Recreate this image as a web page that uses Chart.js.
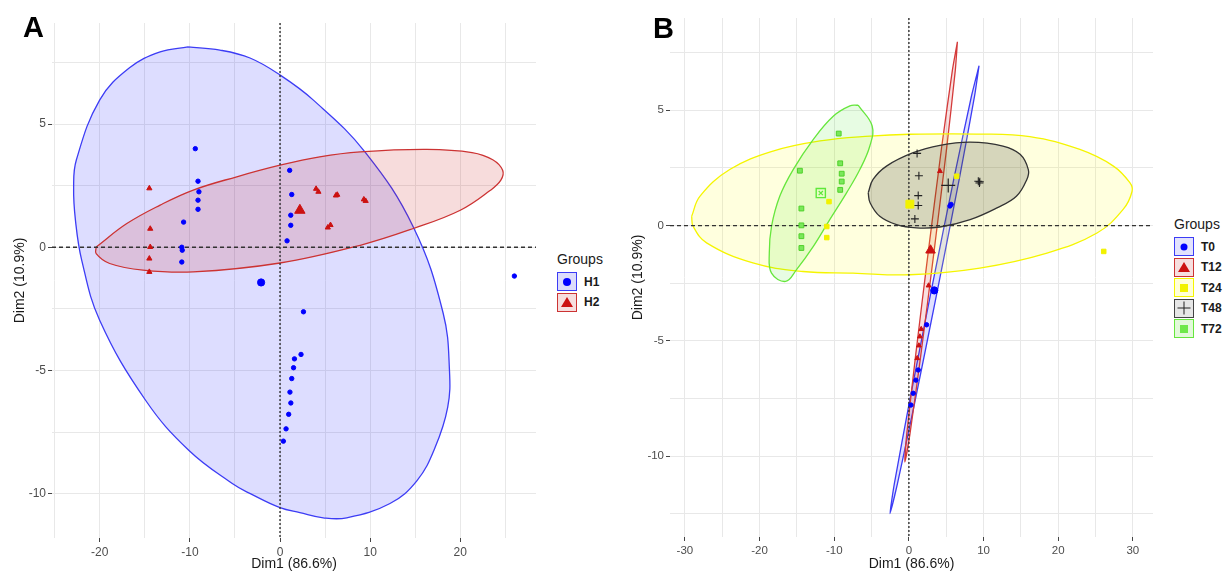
<!DOCTYPE html>
<html>
<head>
<meta charset="utf-8">
<script src="https://cdn.jsdelivr.net/npm/chart.js@4.4.1/dist/chart.umd.min.js"></script>
<style>
  html, body { margin: 0; padding: 0; background: #fff; }
  #page { position: relative; width: 1223px; height: 575px; overflow: hidden; font-family: "Liberation Sans", Arial, sans-serif; }
  canvas { position: absolute; top: 0; }
  #chartA { left: 0; }
  #chartB { left: 625px; }
  .letter { position: absolute; font-size: 29px; font-weight: bold; line-height: 29px; color: #000; }
  .legend { position: absolute; color: #1a1a1a; }
  .legend .ttl { position: absolute; left: 0; font-size: 14px; line-height: 18px; white-space: nowrap; }
  .legend .item { position: absolute; left: 0; height: 19px; display: flex; align-items: center; }
  .legend .key { position: relative; width: 20px; height: 19px; box-sizing: border-box; border: 1.6px solid; }
  .legend .lbl { margin-left: 7px; font-size: 12px; font-weight: bold; }
  .sym { position: absolute; left: 50%; top: 50%; transform: translate(-50%, -50%); }
  .sym.dot { width: 8px; height: 8px; border-radius: 50%; }
  .sym.tri { width: 0; height: 0; border-left: 6px solid transparent; border-right: 6px solid transparent; border-bottom: 10px solid; }
  .sym.sq { width: 8px; height: 8px; }
  .sym.crs { width: 13px; height: 13px; }
  .sym.crs::before, .sym.crs::after { content: ""; position: absolute; background: #222; }
  .sym.crs::before { left: 6px; top: 0; width: 1.2px; height: 13px; }
  .sym.crs::after { top: 6px; left: 0; height: 1.2px; width: 13px; }
</style>
</head>
<body>
<div id="page">
  <canvas id="chartA" width="545" height="575"></canvas>
  <canvas id="chartB" width="540" height="575"></canvas>

  <div class="letter" style="left:23px; top:13px;">A</div>
  <div class="letter" style="left:653px; top:14px;">B</div>

  <div class="legend" style="left:557px; top:0;">
    <div class="ttl" style="top:250px;">Groups</div>
    <div class="item" style="top:272px;"><span class="key" style="border-color:#3c3cf5; background:#dcdcfb;"><span class="sym dot" style="background:#0000ff;"></span></span><span class="lbl">H1</span></div>
    <div class="item" style="top:292.5px;"><span class="key" style="border-color:#cc3333; background:#f6dede;"><span class="sym tri" style="border-bottom-color:#cc1111;"></span></span><span class="lbl">H2</span></div>
  </div>

  <div class="legend" style="left:1174px; top:0;">
    <div class="ttl" style="top:215px;">Groups</div>
    <div class="item" style="top:237px;"><span class="key" style="border-color:#3c3cf5; background:#e2e2fc;"><span class="sym dot" style="background:#0000ff; width:7px; height:7px;"></span></span><span class="lbl">T0</span></div>
    <div class="item" style="top:257.5px;"><span class="key" style="border-color:#cc3333; background:#f6dede;"><span class="sym tri" style="border-bottom-color:#cc1111;"></span></span><span class="lbl">T12</span></div>
    <div class="item" style="top:278px;"><span class="key" style="border-color:#f5f500; background:#ffffd8;"><span class="sym sq" style="background:#f2f200;"></span></span><span class="lbl">T24</span></div>
    <div class="item" style="top:298.5px;"><span class="key" style="border-color:#444; background:#e6e6e6;"><span class="sym crs"></span></span><span class="lbl">T48</span></div>
    <div class="item" style="top:319px;"><span class="key" style="border-color:#66e63c; background:#e2f9da;"><span class="sym sq" style="background:#6ee84a;"></span></span><span class="lbl">T72</span></div>
  </div>
</div>

<script>
// ---- panel A: axis setup ----
const xRangeA = [-25.3, 28.4];
const yRangeA = [-11.8, 9.1];
const xGridA = [-25, -20, -15, -10, -5, 0, 5, 10, 15, 20, 25];
const xLabelsA = [-20, -10, 0, 10, 20];
const yGridA = [7.5, 5, 2.5, 0, -2.5, -5, -7.5, -10];
const yLabelsA = [5, 0, -5, -10];

// ---- panel A: individuals (Dim1, Dim2) ----
const h1Points = [[-9.4, 4.0], [-9.1, 2.68], [-9.0, 2.25], [-9.1, 1.91], [-9.1, 1.54], [-10.7, 1.02],
  [-10.9, 0.0], [-10.85, -0.12], [-10.9, -0.6], [1.07, 3.12], [1.3, 2.14], [1.19, 1.3], [1.19, 0.89],
  [0.78, 0.26], [2.6, -2.62], [2.33, -4.35], [1.6, -4.53], [1.5, -4.89], [1.3, -5.33], [1.1, -5.88],
  [1.2, -6.32], [0.96, -6.78], [0.67, -7.37], [0.37, -7.87], [26.0, -1.17]];
const h1Mean = [[-2.1, -1.43]];
const h2Points = [[-14.5, 2.39], [-14.4, 0.75], [-14.4, 0.01], [-14.5, -0.46], [-14.5, -1.0],
  [4.0, 2.37], [4.26, 2.25], [6.2, 2.1], [6.35, 2.13], [9.3, 1.94], [9.5, 1.88], [5.6, 0.9], [5.3, 0.8]];
const h2Mean = [[2.2, 1.5]];

// confidence ellipse outlines
const h1Ellipse = [[-10.2, 8.13], [-6.67, 8.0], [-3.33, 7.68], [0, 6.99], [3.67, 5.98], [9.44, 3.86],
  [14.8, 0.81], [18.1, -2.68], [18.8, -5.0], [18.6, -6.5], [17.2, -8.13], [15.2, -9.47], [12.2, -10.4],
  [7.4, -10.98], [4.8, -10.98], [2.2, -10.77], [0, -10.57], [-3.3, -10.0], [-5.3, -9.59], [-10.1, -8.25],
  [-14.9, -6.22], [-20, -2.97], [-22, -0.53], [-22.7, 1.1], [-22.9, 2.44], [-22.6, 3.54], [-20, 5.98],
  [-16.7, 7.28], [-13.3, 7.93], [-10.2, 8.13]];
const h2Ellipse = [[-20.4, 0.01], [-17.0, 0.96], [-13.3, 1.71], [-9.63, 2.32], [-4.8, 2.86], [0, 3.33],
  [4.4, 3.67], [8.9, 3.87], [16.3, 3.97], [21.3, 3.84], [23.6, 3.55], [24.7, 3.12], [24.5, 2.72],
  [23.3, 2.3], [20, 1.5], [14.8, 0.76], [8.9, 0.08], [0, -0.64], [-9.63, -1.0], [-15.2, -0.93],
  [-18.9, -0.66], [-20.4, -0.26], [-20.4, 0.01]];

// ---- panel B: axis setup ----
const xRangeB = [-32, 32.7];
const yRangeB = [-13.5, 9.0];
const xGridB = [-30, -25, -20, -15, -10, -5, 0, 5, 10, 15, 20, 25, 30];
const xLabelsB = [-30, -20, -10, 0, 10, 20, 30];
const yGridB = [7.5, 5, 2.5, 0, -2.5, -5, -7.5, -10, -12.5];
const yLabelsB = [5, 0, -5, -10];

// ---- panel B: individuals ----
const t0Points = [[5.5, 0.85], [5.65, 0.92], [2.37, -4.3], [1.25, -6.26], [0.94, -6.7], [0.58, -7.27], [0.27, -7.78]];
const t0Mean = [[3.4, -2.81]];
const t12Points = [[4.16, 2.36], [2.64, -2.6], [1.65, -4.49], [1.47, -4.81], [1.34, -5.2], [1.12, -5.75]];
const t12Mean = [[2.9, -1.07]];
const t24Points = [[-10.7, 1.04], [-11.0, -0.04], [-11.0, -0.52], [6.4, 2.14], [26.1, -1.12]];
const t24Mean = [[0.13, 0.93]];
const t48Points = [[1.1, 3.13], [1.34, 2.16], [1.25, 1.3], [1.25, 0.87], [0.8, 0.29], [9.3, 1.92], [9.45, 1.85], [9.5, 1.9]];
const t48Mean = [[5.27, 1.74]];
const t72Points = [[-9.4, 3.99], [-14.6, 2.38], [-9.2, 2.7], [-9.0, 2.25], [-9.0, 1.91], [-9.2, 1.55],
  [-14.4, 0.74], [-14.4, 0.01], [-14.4, -0.46], [-14.4, -0.97]];
const t72Mean = [[-11.8, 1.41]];

const t0Ellipse = [[9.4, 6.93], [8.8, 5.62], [6.77, 2.06], [3.83, -2.8], [0.79, -7.66], [-1.54, -11.2],
  [-2.54, -12.49], [-1.94, -11.18], [0.09, -7.62], [3.03, -2.76], [6.07, 2.1], [8.4, 5.64], [9.4, 6.93]];
const t12Ellipse = [[6.5, 7.97], [6.22, 6.74], [5.08, 3.41], [3.36, -1.15], [1.56, -5.71], [0.14, -9.04],
  [-0.54, -10.25], [-0.28, -9.02], [0.88, -5.69], [2.6, -1.13], [4.4, 3.43], [5.84, 6.76], [6.5, 7.97]];
const t24Ellipse = [[-29.1, 0.4], [-28.0, 1.27], [-24.0, 2.43], [-18.2, 3.23], [-11.9, 3.67], [-5.2, 3.88],
  [0.1, 3.96], [9.1, 3.97], [16.2, 3.86], [22.9, 3.3], [27.4, 2.58], [29.6, 1.86], [29.9, 1.49], [28.7, 0.7],
  [25.2, -0.32], [18.5, -1.19], [9.5, -1.84], [0.1, -2.13], [-7.5, -2.06], [-14.2, -1.99], [-20.9, -1.62],
  [-27.1, -0.75], [-28.9, -0.03], [-29.1, 0.4]];
const t48Ellipse = [[-5.45, 1.42], [-4.8, 2.0], [-3.0, 2.58], [0.58, 3.16], [4.16, 3.48], [8.2, 3.62],
  [12.6, 3.45], [14.9, 3.09], [16.0, 2.43], [15.8, 2.0], [14.4, 1.27], [11.8, 0.77], [8.2, 0.26],
  [4.16, -0.06], [1.0, -0.1], [-1.65, 0.04], [-3.9, 0.4], [-5.2, 0.99], [-5.45, 1.42]];
const t72Ellipse = [[-6.8, 5.22], [-4.92, 4.32], [-5.23, 3.45], [-6.57, 2.43], [-8.35, 1.42], [-10.6, 0.26],
  [-12.8, -0.9], [-15.05, -1.91], [-16.5, -2.42], [-18.4, -2.06], [-18.7, -1.19], [-18.4, -0.03],
  [-17.3, 1.27], [-15.5, 2.43], [-12.8, 3.74], [-10.1, 4.75], [-7.9, 5.19], [-6.8, 5.22]];

const FONT = '"Liberation Sans", Arial, sans-serif';
const pts = arr => arr.map(([x, y]) => ({x, y}));

function axis(o) {
  const isLabel = v => o.labels.includes(v);
  return {
    type: 'linear',
    min: o.min,
    max: o.max,
    afterBuildTicks: s => { s.ticks = o.grid.map(v => ({value: v})); },
    afterFit: s => {
      if (o.width) s.width = o.width;
      if (o.height) s.height = o.height;
    },
    ticks: {
      callback: v => isLabel(v) ? String(v) : '',
      autoSkip: false,
      maxRotation: 0,
      padding: o.pad,
      color: '#4d4d4d',
      font: {family: FONT, size: o.tickSize}
    },
    grid: {
      color: '#e8e8e8',
      lineWidth: 1,
      tickLength: 4,
      tickWidth: 1,
      tickColor: c => (c.tick && isLabel(c.tick.value)) ? '#444' : 'rgba(0,0,0,0)'
    },
    border: {display: false},
    title: {display: true, text: o.title, color: '#1a1a1a', font: {family: FONT, size: 14}, padding: o.titlePad}
  };
}

function ellipse(points, line, fill, order, tension) {
  return {type: 'line', data: pts(points), borderColor: line, backgroundColor: fill, borderWidth: 1.3,
    fill: 'shape', tension: tension, pointRadius: 0, order: order};
}
function refLine(points, dash) {
  return {type: 'line', data: pts(points), borderColor: '#333', borderWidth: 1.4, borderDash: dash,
    fill: false, tension: 0, pointRadius: 0, order: 2};
}
function marks(points, style, radius, fill, line, bw, order) {
  return {type: 'scatter', data: pts(points), pointStyle: style, pointRadius: radius,
    backgroundColor: fill, borderColor: line, borderWidth: bw, order: order};
}

const common = {
  responsive: false,
  animation: false,
  events: [],
  plugins: {legend: {display: false}, tooltip: {enabled: false}}
};

// Panel A
new Chart(document.getElementById('chartA'), {
  type: 'scatter',
  data: {
    datasets: [
      marks(h1Mean, 'circle', 3.6, '#0000ff', '#0000ff', 1, 0),
      marks(h2Mean, 'triangle', 6, '#cc1111', '#cc1111', 1, 0),
      marks(h1Points, 'circle', 2.2, '#0000ff', '#0000ff', 1, 1),
      marks(h2Points, 'triangle', 3, '#cc1111', '#cc1111', 1, 1),
      refLine([[xRangeA[0], 0], [xRangeA[1], 0]], [4, 3]),
      refLine([[0, yRangeA[1]], [0, yRangeA[0]]], [2, 2]),
      ellipse(h2Ellipse, '#cc3333', 'rgba(200,20,20,0.15)', 3, 0.4),
      ellipse(h1Ellipse, '#3c3cf5', 'rgba(0,0,255,0.135)', 4, 0.4)
    ]
  },
  options: Object.assign({}, common, {
    layout: {padding: {left: 0, right: 9, top: 23, bottom: 0}},
    scales: {
      x: axis({min: xRangeA[0], max: xRangeA[1], grid: xGridA, labels: xLabelsA, height: 37, pad: 3,
        tickSize: 12, title: 'Dim1 (86.6%)', titlePad: {top: 0, bottom: 2}}),
      y: axis({min: yRangeA[0], max: yRangeA[1], grid: yGridA, labels: yLabelsA, width: 52, pad: 2,
        tickSize: 12, title: 'Dim2 (10.9%)', titlePad: {top: 12, bottom: 0}})
    }
  })
});

// Panel B
new Chart(document.getElementById('chartB'), {
  type: 'scatter',
  data: {
    datasets: [
      marks(t0Mean, 'circle', 3.6, '#0000ff', '#0000ff', 1, 0),
      marks(t12Mean, 'triangle', 5.5, '#cc1111', '#cc1111', 1, 0),
      marks(t24Mean, 'rect', 5.6, '#f2f200', '#f2f200', 1, 0),
      marks(t48Mean, 'cross', 7, '#222', '#222', 1.2, 0),
      marks(t72Mean, 'rect', 6.5, 'rgba(0,0,0,0)', '#5ee83a', 1.4, 0),
      marks(t72Mean, 'crossRot', 3, '#5ee83a', '#5ee83a', 1.2, 0),
      marks(t0Points, 'circle', 2.2, '#0000ff', '#0000ff', 1, 1),
      marks(t12Points, 'triangle', 2.8, '#cc1111', '#cc1111', 1, 1),
      marks(t24Points, 'rect', 3.2, '#f2f200', '#f2f200', 1, 1),
      marks(t48Points, 'cross', 4, '#222', '#222', 1.1, 1),
      marks(t72Points, 'rect', 3.4, '#7ae85a', '#4fd02a', 1, 1),
      refLine([[xRangeB[0], 0], [xRangeB[1], 0]], [4, 3]),
      refLine([[0, yRangeB[1]], [0, yRangeB[0]]], [2, 2]),
      ellipse(t72Ellipse, '#66e63c', 'rgba(40,230,0,0.11)', 3, 0.4),
      ellipse(t48Ellipse, '#333333', 'rgba(0,0,0,0.16)', 4, 0.4),
      ellipse(t24Ellipse, '#f5f500', 'rgba(255,255,0,0.13)', 5, 0.4),
      ellipse(t12Ellipse, '#d43a3a', 'rgba(204,0,0,0.12)', 6, 0.2),
      ellipse(t0Ellipse, '#3c3cf5', 'rgba(0,0,255,0.12)', 7, 0.2)
    ]
  },
  options: Object.assign({}, common, {
    layout: {padding: {left: 0, right: 12, top: 18, bottom: 0}},
    scales: {
      x: axis({min: xRangeB[0], max: xRangeB[1], grid: xGridB, labels: xLabelsB, height: 38, pad: 3,
        tickSize: 11.5, title: 'Dim1 (86.6%)', titlePad: {top: 0, bottom: 2}}),
      y: axis({min: yRangeB[0], max: yRangeB[1], grid: yGridB, labels: yLabelsB, width: 45, pad: 2,
        tickSize: 11.5, title: 'Dim2 (10.9%)', titlePad: {top: 5, bottom: 0}})
    }
  })
});
</script>
</body>
</html>
